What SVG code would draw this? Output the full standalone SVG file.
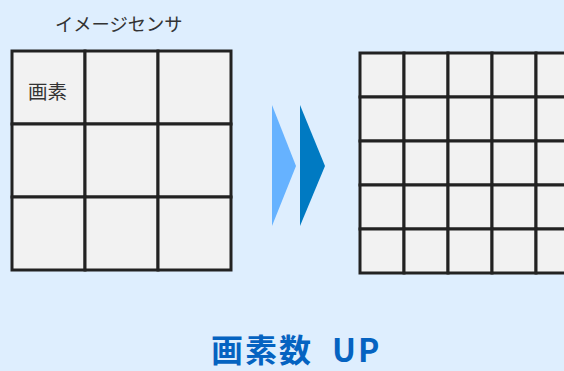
<svg xmlns="http://www.w3.org/2000/svg" width="564" height="371" viewBox="0 0 564 371">
  <style>
    .cell { fill: #F2F2F2; stroke: #222222; stroke-width: 3; }
    .lbl { font-family: "Noto Sans CJK JP", "Noto Sans", sans-serif; fill: #333333; }
    .title { font-family: "Noto Sans CJK JP", "Noto Sans", sans-serif; font-weight: bold; fill: #0563C1; }
  </style>
  <rect x="0" y="0" width="564" height="371" fill="#DEEEFE"/>
  <g id="sensor-before">
    <text class="lbl" x="55" y="31" font-size="18.3">イメージセンサ</text>
    <rect class="cell" x="12" y="51" width="73" height="73"/>
    <rect class="cell" x="85" y="51" width="73" height="73"/>
    <rect class="cell" x="158" y="51" width="73" height="73"/>
    <rect class="cell" x="12" y="124" width="73" height="73"/>
    <rect class="cell" x="85" y="124" width="73" height="73"/>
    <rect class="cell" x="158" y="124" width="73" height="73"/>
    <rect class="cell" x="12" y="197" width="73" height="73"/>
    <rect class="cell" x="85" y="197" width="73" height="73"/>
    <rect class="cell" x="158" y="197" width="73" height="73"/>
    <text class="lbl" x="28" y="99" font-size="19.5">画素</text>
  </g>
  <g id="arrows">
    <polygon points="272,105 296,166 272,226" fill="#66B2FF"/>
    <polygon points="300,105 325,166 300,226" fill="#007AC2"/>
  </g>
  <g id="sensor-after">
    <rect class="cell" x="360" y="53" width="44" height="44"/>
    <rect class="cell" x="404" y="53" width="44" height="44"/>
    <rect class="cell" x="448" y="53" width="44" height="44"/>
    <rect class="cell" x="492" y="53" width="44" height="44"/>
    <rect class="cell" x="536" y="53" width="44" height="44"/>
    <rect class="cell" x="360" y="97" width="44" height="44"/>
    <rect class="cell" x="404" y="97" width="44" height="44"/>
    <rect class="cell" x="448" y="97" width="44" height="44"/>
    <rect class="cell" x="492" y="97" width="44" height="44"/>
    <rect class="cell" x="536" y="97" width="44" height="44"/>
    <rect class="cell" x="360" y="141" width="44" height="44"/>
    <rect class="cell" x="404" y="141" width="44" height="44"/>
    <rect class="cell" x="448" y="141" width="44" height="44"/>
    <rect class="cell" x="492" y="141" width="44" height="44"/>
    <rect class="cell" x="536" y="141" width="44" height="44"/>
    <rect class="cell" x="360" y="185" width="44" height="44"/>
    <rect class="cell" x="404" y="185" width="44" height="44"/>
    <rect class="cell" x="448" y="185" width="44" height="44"/>
    <rect class="cell" x="492" y="185" width="44" height="44"/>
    <rect class="cell" x="536" y="185" width="44" height="44"/>
    <rect class="cell" x="360" y="229" width="44" height="44"/>
    <rect class="cell" x="404" y="229" width="44" height="44"/>
    <rect class="cell" x="448" y="229" width="44" height="44"/>
    <rect class="cell" x="492" y="229" width="44" height="44"/>
    <rect class="cell" x="536" y="229" width="44" height="44"/>
  </g>
  <g id="title">
    <text class="title" x="211" y="362" font-size="32" letter-spacing="2">画素数 <tspan x="332" letter-spacing="2">UP</tspan></text>
  </g>
</svg>
